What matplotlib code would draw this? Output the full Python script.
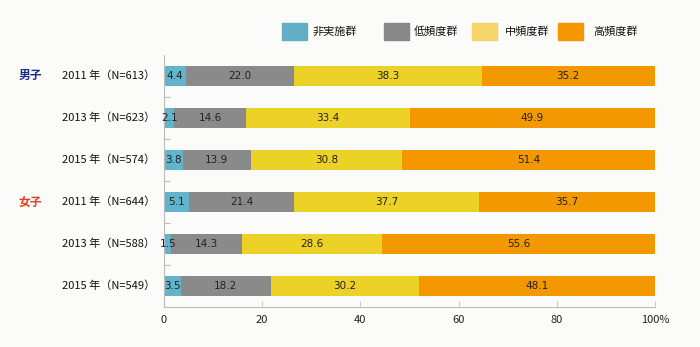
import matplotlib
matplotlib.use("Agg")
import matplotlib.pyplot as plt
from matplotlib.patches import Rectangle

plt.rcParams['font.family'] = ['Noto Sans CJK JP', 'DejaVu Sans']

row_labels = ["2011 年（N=613）", "2013 年（N=623）", "2015 年（N=574）",
              "2011 年（N=644）", "2013 年（N=588）", "2015 年（N=549）"]
groups = ["男子", "女子"]
series_names = ["非実施群", "低頻度群", "中頻度群", "高頻度群"]
none_vals = [4.4, 2.1, 3.8, 5.1, 1.5, 3.5]
low_vals = [22.0, 14.6, 13.9, 21.4, 14.3, 18.2]
mid_vals = [38.3, 33.4, 30.8, 37.7, 28.6, 30.2]
high_vals = [35.2, 49.9, 51.4, 35.7, 55.6, 48.1]
x_ticks = [0, 20, 40, 60, 80, 100]
x_tick_labels = ["0", "20", "40", "60", "80", "100%"]

bar_colors = ["#62b3cc", "#8a8a8a", "#ecd226", "#f39800"]
legend_colors = ["#62aec6", "#888888", "#f7d46a", "#f39800"]
bg = "#fbfbfa"

W, H = 700, 347
fig = plt.figure(figsize=(7, 3.47), dpi=100, facecolor=bg)
ax = fig.add_axes([164 / W, 1 - 307 / H, (655 - 164) / W, (307 - 55) / H])
ax.set_facecolor(bg)

series = [none_vals, low_vals, mid_vals, high_vals]
ypos = list(range(len(row_labels)))
left = [0.0] * len(row_labels)
for s, col in zip(series, bar_colors):
    ax.barh(ypos, s, left=left, height=0.48, color=col, edgecolor='none')
    for y, l, v in zip(ypos, left, s):
        ax.text(l + v / 2, y, f"{v:.1f}", ha='center', va='center',
                fontsize=7.5, color='#222222', family=['DejaVu Sans'])
    left = [a + b for a, b in zip(left, s)]

ax.set_xlim(0, 100)
ax.set_ylim(len(row_labels) - 0.5, -0.5)
ax.set_xticks(x_ticks)
ax.set_xticklabels(x_tick_labels, fontsize=8, color='#222222')
ax.tick_params(axis='x', direction='in', length=4, color='#cccccc', pad=6)
ax.set_yticks([i + 0.5 for i in range(len(row_labels) - 1)])
ax.set_yticklabels([])
ax.tick_params(axis='y', direction='in', length=4, color='#bbbbbb')
for sp in ['top', 'right']:
    ax.spines[sp].set_visible(False)
for sp in ['left', 'bottom']:
    ax.spines[sp].set_color('#bbbbbb')
    ax.spines[sp].set_linewidth(0.8)

for y, lab in zip(ypos, row_labels):
    ax.text(-9 / (655 - 164) * 100, y, lab, ha='right', va='center',
            fontsize=8, color='#111111', transform=ax.transData, clip_on=False)

fig.text(30 / W, 1 - 75 / H, groups[0], ha='center', va='center', fontsize=8.5,
         color='#1c2c8c', fontweight='bold')
fig.text(30 / W, 1 - 202 / H, groups[1], ha='center', va='center', fontsize=8.5,
         color='#e04020', fontweight='bold')

patch_x = [282, 384, 472, 558]
text_x = [313, 414, 505, 593]
for px, tx, name, col in zip(patch_x, text_x, series_names, legend_colors):
    fig.patches.append(Rectangle((px / W, 1 - 40 / H), 25 / W, 17 / H,
                                 transform=fig.transFigure, color=col))
    fig.text(tx / W, 1 - 31.5 / H, name, ha='left', va='center', fontsize=8,
             color='#111111')

fig.savefig("out.png", dpi=100, facecolor=bg)
